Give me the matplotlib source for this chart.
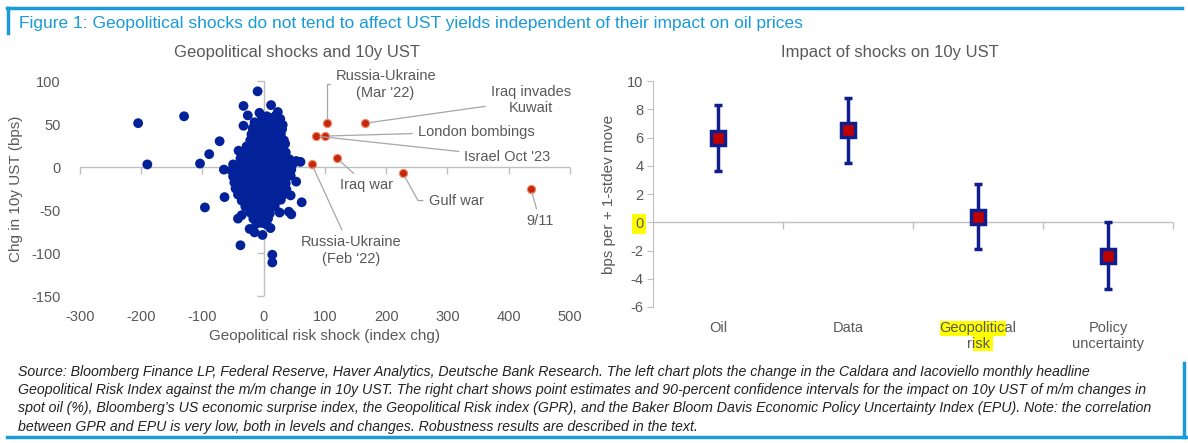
import numpy as np
import matplotlib
matplotlib.use('Agg')
import matplotlib.pyplot as plt
from matplotlib.patches import Rectangle

plt.rcParams['font.family'] = ['Liberation Sans', 'DejaVu Sans']
plt.rcParams['axes.unicode_minus'] = False

# ---- left chart: monthly GPR shock vs chg in 10y UST (blue = all months)
blue_pts = [
    # outliers
    (-205, 51), (-190, 3), (-130, 59), (-104, 4), (-96, -47), (-89, 15), (-72, 30),
    (-65, -3), (-64, -35), (-41, 19), (-38, -91), (-10, 88), (-33, 71), (-26, 60),
    (-33, 48), (14, -102), (14, -111), (-23, -72), (-15, -76), (-2, -79), (11, -71),
    (-42, -60), (-36, -56), (45, -55), (41, -52), (26, -53), (62, -41), (44, -33),
    (53, -17), (53, 7), (60, 6), (31, 49), (12, 72), (23, 64), (-7, 63), (35, 27),
    # core
    (-3, 58), (5, 59), (12, 57), (20, 60), (27, 56),
    (-15, 52), (-6, 51), (3, 53), (11, 51), (19, 52), (27, 50),
    (-18, 45), (-10, 44), (-2, 46), (6, 44), (14, 45), (22, 43), (30, 44),
    (-20, 38), (-12, 37), (-4, 39), (4, 37), (12, 38), (20, 36), (28, 38),
    (-22, 31), (-14, 30), (-6, 32), (2, 31), (10, 30), (18, 32), (26, 30), (33, 31),
    (-28, 24), (-17, 23), (-9, 25), (-1, 24), (7, 23), (15, 25), (23, 24), (31, 22),
    (-32, 17), (-22, 16), (-14, 18), (-6, 17), (2, 16), (10, 18), (18, 17), (26, 15), (36, 17),
    (-38, 10), (-25, 9), (-17, 11), (-9, 10), (-1, 9), (7, 11), (15, 10), (23, 8), (31, 10), (42, 9),
    (-50, 3), (-40, 3), (-32, 2), (-24, 4), (-16, 3), (-8, 2), (0, 4), (8, 3), (16, 2), (24, 4), (32, 3), (40, 2), (48, 4),
    (-53, -4), (-43, -5), (-32, -3), (-24, -4), (-16, -5), (-8, -3), (0, -4), (8, -5), (16, -3), (24, -4), (32, -5), (45, -3),
    (-50, -11), (-40, -12), (-30, -10), (-22, -11), (-14, -12), (-6, -10), (2, -11), (10, -12), (18, -10), (26, -11), (34, -12), (44, -10),
    (-48, -18), (-39, -19), (-31, -17), (-23, -18), (-15, -19), (-7, -17), (1, -18), (9, -19), (17, -17), (25, -18), (36, -19),
    (-46, -25), (-36, -26), (-28, -24), (-20, -25), (-12, -26), (-4, -24), (4, -25), (12, -26), (20, -24), (28, -25), (37, -26),
    (-42, -32), (-32, -33), (-24, -31), (-16, -32), (-8, -33), (0, -31), (8, -32), (16, -33), (24, -31), (32, -32),
    (-36, -39), (-28, -40), (-20, -38), (-12, -39), (-4, -40), (4, -38), (12, -39), (20, -40), (28, -38),
    (-30, -46), (-22, -47), (-14, -45), (-6, -46), (2, -47), (10, -45), (18, -46),
    (-22, -53), (-14, -54), (-6, -52), (2, -53), (10, -54),
    (-17, -60), (-9, -59), (-1, -61), (7, -60),
    (-12, -66), (-3, -65), (5, -67),
]
blue_x = np.array([p[0] for p in blue_pts])
blue_y = np.array([p[1] for p in blue_pts])

# highlighted events (red)
event_names = ["Russia-Ukraine\n(Mar '22)", "Iraq invades\nKuwait", "London bombings",
               "Israel Oct '23", "Iraq war", "Russia-Ukraine\n(Feb '22)", "Gulf war", "9/11"]
event_x = [103, 166, 100, 85, 120, 78, 227, 436]
event_y = [51, 51, 36, 36, 10, 4, -7, -25]
label_x = [199, 436, 347, 398, 168, 143, 314, 451]
label_y = [96, 78, 41, 12, -21, -97, -39, -63]

# ---- right chart: point estimates and 90% CI
categories = ['Oil', 'Data', 'Geopolitical\nrisk', 'Policy\nuncertainty']
estimate = [6.0, 6.5, 0.4, -2.4]
ci_low = [3.6, 4.2, -1.9, -4.75]
ci_high = [8.3, 8.8, 2.7, 0.0]

grey_txt = '#595959'
axis_grey = '#bfbfbf'
db_blue = '#1a9ad6'
navy = '#0f1e8c'
dot_blue = '#03229a'

fig = plt.figure(figsize=(11.88, 4.43), dpi=100)

# frame decorations
fig.add_artist(plt.Line2D([0.006, 0.995], [0.982, 0.982], color=db_blue, lw=2.5))
fig.add_artist(plt.Line2D([0.007, 0.007], [0.982, 0.925], color=db_blue, lw=2.5))
fig.add_artist(plt.Line2D([0.006, 0.998], [0.013, 0.013], color=db_blue, lw=2.5))
fig.add_artist(plt.Line2D([0.997, 0.997], [0.013, 0.18], color=db_blue, lw=2.5))

fig.text(0.016, 0.948, 'Figure 1: Geopolitical shocks do not tend to affect UST yields independent of their impact on oil prices',
         color=db_blue, fontsize=12.5, va='center', ha='left')

# ---------- left scatter
ax = fig.add_axes([0.0673, 0.3318, 0.4125, 0.4853])
ax.set_xlim(-300, 500)
ax.set_ylim(-150, 100)
for s in ax.spines.values():
    s.set_visible(False)
ax.axhline(0, color=axis_grey, lw=1, zorder=1)
ax.axvline(0, color=axis_grey, lw=1, zorder=1)
xt = np.arange(-300, 501, 100)
yt = np.arange(-150, 101, 50)
ax.set_xticks(xt)
ax.set_yticks(yt)
ax.tick_params(length=0, labelsize=10.5, labelcolor=grey_txt)
ax.tick_params(axis='y', pad=14)
ax.tick_params(axis='x', pad=10)
ax.plot(xt, np.zeros_like(xt), ls='none', marker=3, ms=5, color=axis_grey, zorder=1, clip_on=False)
ax.plot(np.zeros_like(yt), yt, ls='none', marker=0, ms=5, color=axis_grey, zorder=1, clip_on=False)
ax.set_xlabel('Geopolitical risk shock (index chg)', color=grey_txt, fontsize=11, labelpad=4)
ax.set_ylabel('Chg in 10y UST (bps)', color=grey_txt, fontsize=11, labelpad=6)

ax.scatter(blue_x, blue_y, s=50, color=dot_blue, edgecolors='none', zorder=3)
ax.scatter(event_x, event_y, s=34, color='#c8260e', edgecolors='#f08a62', linewidths=0.8, zorder=4)

for i, name in enumerate(event_names):
    cs = 'arc3'
    if i == 0:
        cs = 'angle,angleA=0,angleB=90,rad=0'
    elif i == 6:
        cs = 'angle,angleA=0,angleB=119,rad=0'
    ax.annotate(name, xy=(event_x[i], event_y[i]), xytext=(label_x[i], label_y[i]),
                ha='center', va='center', multialignment='center', fontsize=10.5, color=grey_txt,
                arrowprops=dict(arrowstyle='-', color='#a6a6a6', lw=0.9, shrinkA=2, shrinkB=3,
                                connectionstyle=cs), zorder=5)

fig.text(0.25, 0.882, 'Geopolitical shocks and 10y UST', color=grey_txt, fontsize=12, ha='center', va='center')

# ---------- right error-bar chart
ax2 = fig.add_axes([0.5497, 0.307, 0.4377, 0.510])
xpos = np.arange(len(categories))
ax2.set_xlim(-0.5, 3.5)
ax2.set_ylim(-6, 10)
for k in ['top', 'right', 'bottom']:
    ax2.spines[k].set_visible(False)
ax2.spines['left'].set_color(axis_grey)
ax2.axhline(0, color=axis_grey, lw=1, zorder=1)
ax2.plot(xpos + 0.5, np.zeros(len(xpos)), ls='none', marker=3, ms=5, color=axis_grey, clip_on=False)
ax2.set_yticks(np.arange(-6, 11, 2))
ax2.set_xticks(xpos)
ax2.set_xticklabels(categories)
ax2.tick_params(axis='y', length=4, color=axis_grey, labelsize=10.5, labelcolor=grey_txt, pad=3)
ax2.tick_params(axis='x', length=0, labelsize=10.5, labelcolor=grey_txt, pad=10)
ax2.set_ylabel('bps per + 1-stdev move', color=grey_txt, fontsize=11, labelpad=8)

est = np.array(estimate)
err = [est - np.array(ci_low), np.array(ci_high) - est]
ax2.errorbar(xpos, est, yerr=err, fmt='s', ms=10, mfc='#c00000', mec=navy, mew=2.5,
             ecolor=navy, elinewidth=2.5, capsize=3, capthick=2.5, zorder=3)

fig.text(0.749, 0.882, 'Impact of shocks on 10y UST', color=grey_txt, fontsize=12, ha='center', va='center')

# yellow highlights
ylab0 = [t for t in ax2.get_yticklabels() if t.get_text().replace('\u2212', '-') == '0']
for t in ylab0:
    t.set_bbox(dict(facecolor='#ffff00', edgecolor='none', pad=2))

fig.canvas.draw()
r = fig.canvas.get_renderer()
bb = ax2.get_xticklabels()[2].get_window_extent(r)
W, H = fig.bbox.width, fig.bbox.height
h2 = bb.height / 2
fig.patches.append(Rectangle((bb.x0 / W, (bb.y0 + h2) / H), 0.86 * bb.width / W, h2 / H,
                             transform=fig.transFigure, facecolor='#ffff00', edgecolor='none', zorder=-1))
fig.patches.append(Rectangle(((bb.x0 + 0.43 * bb.width) / W, bb.y0 / H), 0.27 * bb.width / W, h2 / H,
                             transform=fig.transFigure, facecolor='#ffff00', edgecolor='none', zorder=-1))

caption = ("Source: Bloomberg Finance LP, Federal Reserve, Haver Analytics, Deutsche Bank Research. The left chart plots the change in the Caldara and Iacoviello monthly headline\n"
           "Geopolitical Risk Index against the m/m change in 10y UST. The right chart shows point estimates and 90-percent confidence intervals for the impact on 10y UST of m/m changes in\n"
           "spot oil (%), Bloomberg\u2019s US economic surprise index, the Geopolitical Risk index (GPR), and the Baker Bloom Davis Economic Policy Uncertainty Index (EPU). Note: the correlation\n"
           "between GPR and EPU is very low, both in levels and changes. Robustness results are described in the text.")
fig.text(0.015, 0.177, caption, fontsize=10.2, style='italic', color='#222222', va='top', ha='left',
         linespacing=1.4, family=['Liberation Sans', 'DejaVu Sans'])

fig.savefig('out.png', dpi=100)
